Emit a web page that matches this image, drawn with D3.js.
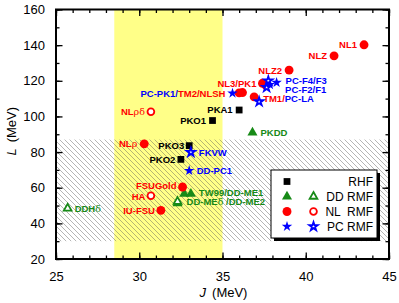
<!DOCTYPE html>
<html>
<head>
<meta charset="utf-8">
<script src="https://cdn.jsdelivr.net/npm/d3@7"></script>
<style>
  body { margin: 0; background: #fff; }
  svg { font-family: Arial, "Liberation Sans", sans-serif; }
  .lbl { font-size: 9.5px; font-weight: bold; }
  .gk { font-family: "DejaVu Serif", serif; font-weight: normal; }
</style>
</head>
<body>
<div id="chart"></div>
<script>
// ---- data ----
var names  = ["PKO1", "PKO2", "PKO3", "PKA1",
              "PKDD", "TW99", "DD-ME1", "DD-ME2", "DD-MEd", "DDHd",
              "NL1", "NLZ", "NLZ2", "NL3", "PK1", "TM2", "NLSH", "TM1", "NLr", "NLrd", "FSUGold", "HA", "IU-FSU",
              "PC-PK1", "PC-F1", "PC-F2", "PC-F3", "PC-F4", "PC-LA", "FKVW", "DD-PC1"];
var Jvals  = [34.4, 32.5, 33.0, 36.0,
              36.8, 32.7, 33.1, 32.3, 32.3, 25.7,
              43.5, 41.7, 39.0, 37.4, 37.6, 36.0, 36.2, 36.9, 30.3, 30.7, 32.6, 30.7, 31.3,
              35.6, 37.85, 37.65, 38.25, 37.75, 37.2, 33.1, 33.0];
var Lvals  = [97.7, 75.9, 83.6, 103.6,
              90.9, 56.6, 56.6, 51.2, 52.2, 48.4,
              140.2, 134.0, 126.0, 118.6, 117.6, 113.2, 113.4, 111.0, 84.6, 102.6, 60.4, 55.5, 47.3,
              113.0, 117.8, 116.3, 119.0, 120.0, 108.3, 79.9, 69.6];
var groups = ["RHF", "RHF", "RHF", "RHF",
              "DD", "DD", "DD", "DD", "DD", "DD",
              "NL", "NL", "NL", "NL", "NL", "NL", "NL", "NL", "NL", "NL", "NL", "NL", "NL",
              "PC", "PC", "PC", "PC", "PC", "PC", "PC", "PC"];
var filled = [1, 1, 1, 1,
              1, 1, 1, 1, 0, 0,
              1, 1, 1, 1, 1, 1, 1, 1, 1, 0, 1, 0, 1,
              1, 1, 0, 1, 0, 0, 0, 1];

var xTicks = [25, 30, 35, 40, 45];
var yTicks = [20, 40, 60, 80, 100, 120, 140, 160];
var yellowBand = [28.5, 35];   // J range
var hatchBand = [30, 87];      // L range

var legendRows = [
  { g: "RHF", text: "RHF", open: false },
  { g: "DD", text: "DD RMF", open: true },
  { g: "NL", text: "NL  RMF", open: true },
  { g: "PC", text: "PC RMF", open: true }
];

// label text pieces: [text, group colour, greek?]
var labels = [
  { at: "NL1", parts: [["NL1", "NL"]], dx: -7, dy: 3.5, end: true },
  { at: "NLZ", parts: [["NLZ", "NL"]], dx: -7, dy: 3.5, end: true },
  { at: "NLZ2", parts: [["NLZ2", "NL"]], dx: -7, dy: 3.5, end: true },
  { at: "NL3", parts: [["NL3/PK1", "NL"]], dx: -6, dy: 3.5, end: true },
  { at: "PC-PK1", parts: [["PC-PK1/", "PC"], ["TM2/NLSH", "NL"]], dx: -7, dy: 3.3, end: true },
  { at: "PC-F3", parts: [["PC-F4/F3", "PC"]], dx: 9, dy: 1.2, end: false },
  { at: "PC-F2", parts: [["PC-F2/F1", "PC"]], dx: 18.5, dy: 5.6, end: false },
  { at: "TM1", parts: [["TM1/", "NL"], ["PC-LA", "PC"]], dx: 9, dy: 5.2, end: false },
  { at: "PKA1", parts: [["PKA1", "RHF"]], dx: -6.5, dy: 2.5, end: true },
  { at: "PKO1", parts: [["PKO1", "RHF"]], dx: -6.5, dy: 3.5, end: true },
  { at: "PKDD", parts: [["PKDD", "DD"]], dx: 8, dy: 3.5, end: false },
  { at: "NLrd", parts: [["NL", "NL"], ["ρδ", "NL", 1]], dx: -6, dy: 3.5, end: true },
  { at: "NLr", parts: [["NL", "NL"], ["ρ", "NL", 1]], dx: -7, dy: 3.5, end: true },
  { at: "PKO3", parts: [["PKO3", "RHF"]], dx: -5, dy: 3.5, end: true },
  { at: "FKVW", parts: [["FKVW", "PC"]], dx: 8, dy: 3.5, end: false },
  { at: "PKO2", parts: [["PKO2", "RHF"]], dx: -5.5, dy: 3.5, end: true },
  { at: "DD-PC1", parts: [["DD-PC1", "PC"]], dx: 7.5, dy: 3.5, end: false },
  { at: "FSUGold", parts: [["FSUGold", "NL"]], dx: -6, dy: 2.3, end: true },
  { at: "HA", parts: [["HA", "NL"]], dx: -5.5, dy: 3.8, end: true },
  { at: "IU-FSU", parts: [["IU-FSU", "NL"]], dx: -6, dy: 3.5, end: true },
  { at: "DD-ME1", parts: [["TW99/DD-ME1", "DD"]], dx: 8, dy: 1.8, end: false },
  { at: "DD-MEd", parts: [["DD-ME", "DD"], ["δ", "DD", 1], [" /DD-ME2", "DD"]], dx: 9, dy: 3.6, end: false },
  { at: "DDHd", parts: [["DDH", "DD"], ["δ", "DD", 1]], dx: 7, dy: 3.5, end: false }
];

var colors = { RHF: "#000000", DD: "#178a17", NL: "#ff0000", PC: "#0000ff" };
var shapes = { RHF: d3.symbolSquare, DD: d3.symbolTriangle, NL: d3.symbolCircle, PC: d3.symbolStar };
var sizeFilled = { RHF: 46, DD: 44, NL: 62, PC: 34 };
var sizeOpen = { RHF: 32, DD: 26, NL: 36, PC: 22 };

// ---- chart ----
var W = 399, H = 303;
var margin = { top: 9.5, right: 10, bottom: 44, left: 56 };
var x = d3.scaleLinear().domain([25, 45]).range([margin.left, W - margin.right]);
var y = d3.scaleLinear().domain([20, 160]).range([H - margin.bottom, margin.top]);

var svg = d3.select("#chart").append("svg")
    .attr("width", W)
    .attr("height", H);

var defs = svg.append("defs");
var pat = defs.append("pattern")
    .attr("id", "hatch")
    .attr("patternUnits", "userSpaceOnUse")
    .attr("width", 5).attr("height", 5);
pat.append("path")
    .attr("d", "M-1,-1 L6,6 M-1,4 L1,6 M4,-1 L6,1")
    .attr("stroke", "#555")
    .attr("stroke-opacity", 0.55)
    .attr("stroke-width", 0.8);

svg.append("rect")
    .attr("x", x(yellowBand[0]))
    .attr("y", y(160))
    .attr("width", x(yellowBand[1]) - x(yellowBand[0]))
    .attr("height", y(20) - y(160))
    .attr("fill", "#ffff88");

svg.append("rect")
    .attr("x", x(25))
    .attr("y", y(hatchBand[1]))
    .attr("width", x(45) - x(25))
    .attr("height", y(hatchBand[0]) - y(hatchBand[1]))
    .attr("fill", "url(#hatch)");

// points
var points = names.map(function (n, i) {
  return { name: n, J: Jvals[i], L: Lvals[i], g: groups[i], filled: filled[i] };
});
var byName = {};
points.forEach(function (p) { byName[p.name] = p; });

function drawSymbol(sel, g, open) {
  sel.attr("d", d3.symbol().type(shapes[g]).size(open ? sizeOpen[g] : sizeFilled[g]))
     .attr("fill", open ? "#fff" : colors[g])
     .attr("stroke", open ? colors[g] : "none")
     .attr("stroke-width", open ? 1.8 : 0);
}

svg.append("g").selectAll("path")
    .data(points)
    .enter().append("path")
    .attr("transform", function (d) { return "translate(" + x(d.J) + "," + y(d.L) + ")"; })
    .each(function (d) { drawSymbol(d3.select(this), d.g, !d.filled); });

// labels
var lg = svg.append("g").attr("class", "lbl");
labels.forEach(function (l) {
  var p = byName[l.at];
  var t = lg.append("text")
      .attr("x", x(p.J) + l.dx)
      .attr("y", y(p.L) + l.dy)
      .attr("text-anchor", l.end ? "end" : "start");
  l.parts.forEach(function (pt) {
    t.append("tspan")
        .attr("class", pt[2] ? "gk" : null)
        .attr("fill", colors[pt[1]])
        .text(pt[0]);
  });
});

// legend
var lx = 271, ly = 170, lw = 106, lh = 68;
svg.append("rect").attr("x", lx + 3).attr("y", ly + 3).attr("width", lw).attr("height", lh).attr("fill", "#000");
svg.append("rect").attr("x", lx).attr("y", ly).attr("width", lw).attr("height", lh)
    .attr("fill", "#fff").attr("stroke", "#000").attr("stroke-width", 1);
legendRows.forEach(function (r, i) {
  var ry = ly + 11.5 + i * 15;
  svg.append("path").attr("transform", "translate(" + (lx + 16) + "," + ry + ")")
      .call(drawSymbol, r.g, false);
  if (r.open) {
    svg.append("path").attr("transform", "translate(" + (lx + 42.5) + "," + ry + ")")
        .call(drawSymbol, r.g, true);
  }
  svg.append("text")
      .attr("x", lx + lw - 4)
      .attr("y", ry + 4.3)
      .attr("text-anchor", "end")
      .attr("font-size", 12)
      .attr("xml:space", "preserve")
      .style("white-space", "pre")
      .text(r.text);
});

// axes
function styleAxis(g) {
  g.select(".domain").remove();
  g.selectAll("line").attr("stroke-width", 1.3);
  g.selectAll("text").attr("font-size", 13).attr("fill", "#000").attr("font-family", "Arial, 'Liberation Sans', sans-serif");
}
var xMinor = d3.range(25, 46, 1);
var yMinor = d3.range(20, 161, 10);

svg.append("g").attr("transform", "translate(0," + y(20) + ")")
    .call(d3.axisBottom(x).tickValues(xMinor).tickSize(-3.5).tickFormat(""))
    .call(styleAxis);
svg.append("g").attr("transform", "translate(0," + y(20) + ")")
    .call(d3.axisBottom(x).tickValues(xTicks).tickSize(-6.5).tickPadding(13).tickFormat(d3.format("d")))
    .call(styleAxis);
svg.append("g").attr("transform", "translate(0," + y(160) + ")")
    .call(d3.axisTop(x).tickValues(xMinor).tickSize(-3.5).tickFormat(""))
    .call(styleAxis);
svg.append("g").attr("transform", "translate(0," + y(160) + ")")
    .call(d3.axisTop(x).tickValues(xTicks).tickSize(-6.5).tickFormat(""))
    .call(styleAxis);
svg.append("g").attr("transform", "translate(" + x(25) + ",0)")
    .call(d3.axisLeft(y).tickValues(yMinor).tickSize(-3.5).tickFormat(""))
    .call(styleAxis);
svg.append("g").attr("transform", "translate(" + x(25) + ",0)")
    .call(d3.axisLeft(y).tickValues(yTicks).tickSize(-6.5).tickPadding(11).tickFormat(d3.format("d")))
    .call(styleAxis);
svg.append("g").attr("transform", "translate(" + x(45) + ",0)")
    .call(d3.axisRight(y).tickValues(yMinor).tickSize(-3.5).tickFormat(""))
    .call(styleAxis);
svg.append("g").attr("transform", "translate(" + x(45) + ",0)")
    .call(d3.axisRight(y).tickValues(yTicks).tickSize(-6.5).tickFormat(""))
    .call(styleAxis);

svg.append("rect")
    .attr("x", x(25)).attr("y", y(160))
    .attr("width", x(45) - x(25)).attr("height", y(20) - y(160))
    .attr("fill", "none").attr("stroke", "#000").attr("stroke-width", 2);

// axis titles
var xt = svg.append("text")
    .attr("x", (x(25) + x(45)) / 2 + 1)
    .attr("y", 297)
    .attr("text-anchor", "middle")
    .attr("font-size", 13);
xt.append("tspan").attr("font-style", "italic").text("J");
xt.append("tspan").attr("dx", 6).text("(MeV)");

var yt = svg.append("text")
    .attr("transform", "translate(16," + ((y(20) + y(160)) / 2 - 3) + ") rotate(-90)")
    .attr("text-anchor", "middle")
    .attr("font-size", 13);
yt.append("tspan").attr("font-style", "italic").text("L");
yt.append("tspan").attr("dx", 6).text("(MeV)");
</script>
</body>
</html>
